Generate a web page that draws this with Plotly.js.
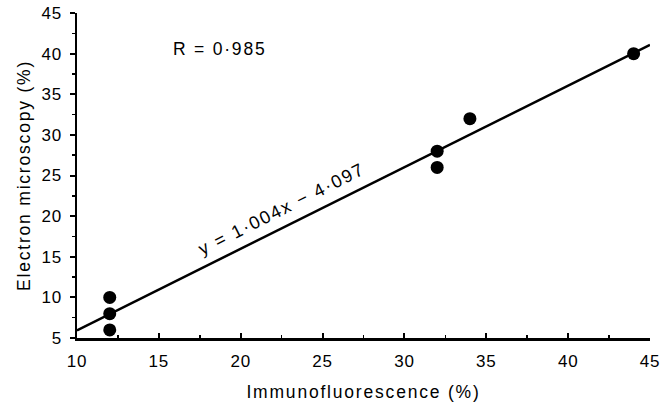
<!DOCTYPE html>
<html>
<head>
<meta charset="utf-8">
<script src="https://cdn.plot.ly/plotly-3.0.1.min.js"></script>
<style>
html,body{margin:0;padding:0;background:#fff}
#chart{width:661px;height:402px}
#chart text{letter-spacing:1.8px}
#chart .xtick text,#chart .ytick text{letter-spacing:0.8px}
</style>
</head>
<body>
<div id="chart"></div>
<script>
var immunofluorescence = [12, 12, 12, 32, 32, 34, 44];
var electronMicroscopy = [10, 8, 6, 28, 26, 32, 40];
var fitX = [10, 45];
var fitY = [5.943, 41.083];
var xTicks = [10, 15, 20, 25, 30, 35, 40, 45];
var yTicks = [5, 10, 15, 20, 25, 30, 35, 40, 45];

var font = {family: 'Liberation Sans, Arial, sans-serif', color: '#000'};

var traces = [
  {x: fitX, y: fitY, mode: 'lines', line: {color: '#000', width: 2.5}, hoverinfo: 'skip'},
  {x: immunofluorescence, y: electronMicroscopy, mode: 'markers',
   marker: {color: '#000', size: 13, symbol: 'circle'}}
];

var layout = {
  width: 661, height: 402,
  margin: {l: 77, r: 11, t: 13, b: 64},
  showlegend: false,
  paper_bgcolor: '#fff', plot_bgcolor: '#fff',
  font: Object.assign({size: 17.5}, font),
  xaxis: {
    range: [10, 45], tickvals: xTicks, ticktext: xTicks.map(String),
    showgrid: false, zeroline: false, showline: true, linecolor: '#000', linewidth: 2.5,
    ticks: 'inside', ticklen: 5, tickwidth: 2, tickcolor: '#000',
    minor: {dtick: 2.5, ticks: 'inside', ticklen: 3, tickwidth: 1.5, tickcolor: '#000'},
    tickfont: Object.assign({size: 17}, font),
    ticklabelstandoff: 6,
    title: {text: 'Immunofluorescence (%)', font: Object.assign({size: 17.5}, font), standoff: 18}
  },
  yaxis: {
    range: [5, 45], tickvals: yTicks, ticktext: yTicks.map(String),
    showgrid: false, zeroline: false, showline: true, linecolor: '#000', linewidth: 2.5,
    ticks: 'outside', ticklen: 5, tickwidth: 2, tickcolor: '#000',
    minor: {dtick: 2.5, ticks: 'outside', ticklen: 3, tickwidth: 1.5, tickcolor: '#000'},
    tickfont: Object.assign({size: 17}, font),
    ticklabelstandoff: 4,
    title: {text: 'Electron microscopy (%)', font: Object.assign({size: 17.5}, font), standoff: 8}
  },
  annotations: [
    {x: 18.7, y: 40.6, xref: 'x', yref: 'y', text: 'R = 0·985', showarrow: false,
     font: Object.assign({size: 17.5}, font)},
    {x: 22.5, y: 20.9, xref: 'x', yref: 'y', text: 'y = 1·004x − 4·097', showarrow: false,
     textangle: -26.7, font: Object.assign({size: 18}, font)}
  ]
};

Plotly.newPlot('chart', traces, layout, {displayModeBar: false, staticPlot: true});
</script>
</body>
</html>
